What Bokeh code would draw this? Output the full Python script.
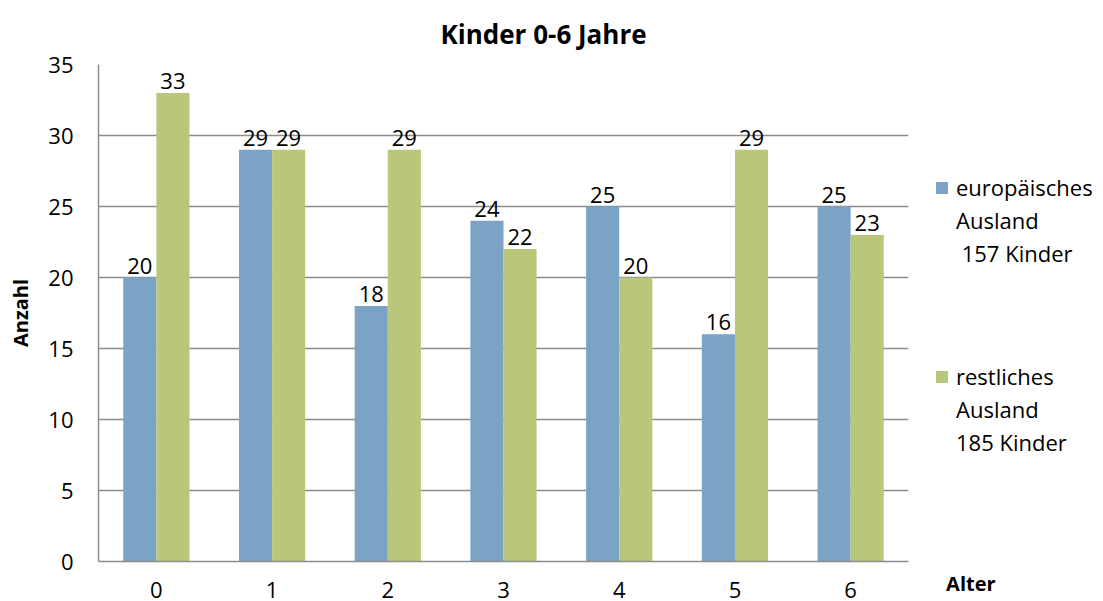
from bokeh.plotting import figure
from bokeh.models import ColumnDataSource, FactorRange, Legend, LegendItem, LabelSet, Range1d, FixedTicker
from bokeh.transform import dodge
from bokeh.embed import file_html
from bokeh.resources import INLINE
from bokeh.core.properties import value

alter = ["0", "1", "2", "3", "4", "5", "6"]
europaeisch = [20, 29, 18, 24, 25, 16, 25]
restlich = [33, 29, 29, 22, 20, 29, 23]
legend_eu = ["europäisches", "Ausland", " 157 Kinder"]
legend_rest = ["restliches", "Ausland", "185 Kinder"]

FONT = "Open Sans"
BLUE = "#7BA3C6"
GREEN = "#B9C77B"
TXT = "black"

src = ColumnDataSource(dict(alter=alter, eu=europaeisch, rest=restlich,
                            eu_t=[str(v) for v in europaeisch],
                            rest_t=[str(v) for v in restlich]))

p = figure(x_range=FactorRange(*alter), y_range=Range1d(0, 35),
           frame_width=810, frame_height=497, output_backend="svg", toolbar_location=None,
           min_border_left=98, min_border_right=195, min_border_top=60, min_border_bottom=44)

p.title.text = "Kinder 0-6 Jahre"
p.title.text_font = FONT
p.title.text_font_size = "26px"
p.title.text_font_style = "bold"
p.title.text_color = TXT
p.title.align = "left"
p.title.offset = 342
p.title.standoff = 26

r1 = p.vbar(x=dodge("alter", -0.143, range=p.x_range), top="eu", width=0.286, source=src,
            fill_color=BLUE, line_color=None)
r2 = p.vbar(x=dodge("alter", 0.143, range=p.x_range), top="rest", width=0.286, source=src,
            fill_color=GREEN, line_color=None)
dummy = p.vbar(x=[], top=[], width=0.1, fill_alpha=0, line_alpha=0)

for col, off in (("eu_t", -0.143), ("rest_t", 0.143)):
    ycol = "eu" if col == "eu_t" else "rest"
    p.add_layout(LabelSet(x=dodge("alter", off, range=p.x_range), y=ycol, text=col, source=src,
                          text_align="center", text_baseline="bottom", y_offset=4,
                          text_font=value(FONT), text_font_size="22px", text_color=TXT))

p.outline_line_color = None
p.xgrid.grid_line_color = None
p.ygrid.grid_line_color = "#8C8C8C"
p.ygrid.grid_line_width = 1.5
p.yaxis.ticker = FixedTicker(ticks=[0, 5, 10, 15, 20, 25, 30, 35])
p.yaxis.axis_line_color = "#8C8C8C"
p.yaxis.axis_line_width = 1.5
p.yaxis.major_tick_line_color = None
p.yaxis.minor_tick_line_color = None
p.yaxis.major_label_text_font = FONT
p.yaxis.major_label_text_font_size = "22px"
p.yaxis.major_label_text_color = TXT
p.yaxis.major_label_standoff = 19
p.yaxis.axis_label = "Anzahl"
p.yaxis.axis_label_text_font = FONT
p.yaxis.axis_label_text_font_size = "20px"
p.yaxis.axis_label_text_font_style = "bold"
p.yaxis.axis_label_text_color = TXT
p.yaxis.axis_label_standoff = 11

p.xaxis.axis_line_color = "#8C8C8C"
p.xaxis.axis_line_width = 1.5
p.xaxis.major_tick_line_color = None
p.xaxis.minor_tick_line_color = None
p.xaxis.major_label_text_font = FONT
p.xaxis.major_label_text_font_size = "22px"
p.xaxis.major_label_text_color = TXT
p.xaxis.major_label_standoff = 14
p.xaxis.axis_label = "\u00a0" * 24 + "Alter"
p.xaxis.axis_label_align = "end"
p.xaxis.axis_label_standoff = -31
p.xaxis.axis_label_text_font = FONT
p.xaxis.axis_label_text_font_size = "20px"
p.xaxis.axis_label_text_font_style = "bold"
p.xaxis.axis_label_text_color = TXT

items = [LegendItem(label=legend_eu[0], renderers=[r1])]
items += [LegendItem(label=t, renderers=[dummy]) for t in legend_eu[1:]]
items += [LegendItem(label=" ", renderers=[dummy]) for _ in range(3)]
items += [LegendItem(label=legend_rest[0], renderers=[r2])]
items += [LegendItem(label=t, renderers=[dummy]) for t in legend_rest[1:]]

legend = Legend(items=items, location=(26, 104), glyph_width=15, glyph_height=15,
                label_height=27, spacing=3, padding=10, margin=0, label_standoff=7,
                label_text_font=FONT, label_text_font_size="22px", label_text_color=TXT,
                border_line_color=None, background_fill_alpha=0)
p.add_layout(legend, "right")

open("out.html", "w").write(file_html(p, INLINE))
